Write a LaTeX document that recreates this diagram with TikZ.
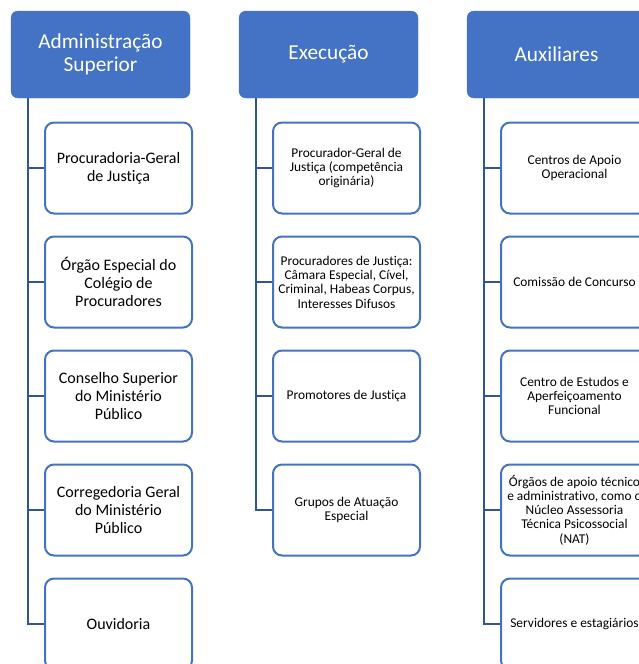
\documentclass[tikz,border=0pt]{standalone}
\usepackage{fontspec}
\setmainfont{Carlito}[Ligatures={NoCommon}]
\definecolor{hdrblue}{HTML}{4472C4}
\definecolor{linkblue}{HTML}{2F5597}
\tikzset{
  hdr/.style={fill=hdrblue, draw=hdrblue, rounded corners=7pt, minimum width=179pt, minimum height=87pt, text=white, align=center, font=\fontsize{21.3}{22.7}\selectfont, inner sep=0pt},
  kidbig/.style={draw=hdrblue, line width=2pt, fill=white, rounded corners=9pt, minimum width=147pt, minimum height=91pt, align=center, font=\fontsize{16}{18}\selectfont, inner sep=0pt},
  kidsmall/.style={kidbig, font=\fontsize{13.4}{14.3}\selectfont},
  link/.style={draw=linkblue, line width=2.8pt}
}
\begin{document}
\begin{tikzpicture}[x=1pt,y=-1pt]
\useasboundingbox (0,0) rectangle (639,664);
\clip (0,0) rectangle (639,664);
% headers
\node[hdr] (h1) at (100.5,54.5) {Administração\\Superior};
\node[hdr] (h2) at (328.5,54.5) {Execução};
\node[hdr] (h3) at (556.5,54.5) {Auxiliares};
% column 1
\node[kidbig] (a1) at (118.5,168) {Procuradoria-Geral\\de Justiça};
\node[kidbig] (a2) at (118.5,282) {Órgão Especial do\\Colégio de\\Procuradores};
\node[kidbig] (a3) at (118.5,396) {Conselho Superior\\do Ministério\\Público};
\node[kidbig] (a4) at (118.5,510) {Corregedoria Geral\\do Ministério\\Público};
\node[kidbig] (a5) at (118.5,624) {Ouvidoria};
% column 2
\node[kidsmall] (b1) at (346.5,168) {Procurador-Geral de\\Justiça (competência\\originária)};
\node[kidsmall] (b2) at (346.5,282) {Procuradores de Justiça:\\Câmara Especial, Cível,\\Criminal, Habeas Corpus,\\Interesses Difusos};
\node[kidsmall] (b3) at (346.5,396) {Promotores de Justiça};
\node[kidsmall] (b4) at (346.5,510) {Grupos de Atuação\\Especial};
% column 3
\node[kidsmall] (c1) at (574.5,168) {Centros de Apoio\\Operacional};
\node[kidsmall] (c2) at (574.5,282) {Comissão de Concurso};
\node[kidsmall] (c3) at (574.5,396) {Centro de Estudos e\\Aperfeiçoamento\\Funcional};
\node[kidsmall] (c4) at (574.5,510) {Órgãos de apoio técnico\\e administrativo, como o\\Núcleo Assessoria\\Técnica Psicossocial\\(NAT)};
\node[kidsmall] (c5) at (574.5,624) {Servidores e estagiários};
% spines
\coordinate (s1) at (28,98);
\coordinate (s2) at (256,98);
\coordinate (s3) at (484,98);
\draw[link] (s1) |- (a5.west);
\draw[link] (s2) |- (b4.west);
\draw[link] (s3) |- (c5.west);
\foreach \n in {a1,a2,a3,a4}{\draw[link] (28,0 |- \n.west) -- (\n.west);}
\foreach \n in {b1,b2,b3}{\draw[link] (256,0 |- \n.west) -- (\n.west);}
\foreach \n in {c1,c2,c3,c4}{\draw[link] (484,0 |- \n.west) -- (\n.west);}
\end{tikzpicture}
\end{document}
